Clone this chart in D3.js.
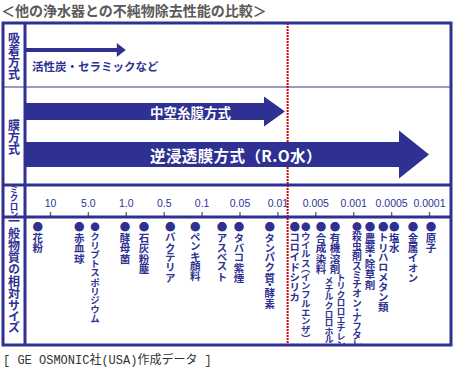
<!DOCTYPE html>
<html><head><meta charset="utf-8">
<script src="https://cdn.jsdelivr.net/npm/d3@7"></script>
<style>
html,body{margin:0;padding:0;background:#fff;}
svg{display:block;}
text{font-family:"Noto Sans CJK JP","Noto Sans",sans-serif;}
</style></head><body>
<script>
// ---------- data ----------
const titleText = "＜他の浄水器との不純物除去性能の比較＞";
const sourceText = "[ GE OSMONIC社(USA)作成データ ]";
const sectionNames = ["吸着方式", "膜方式", "ミクロン", "一般物質の相対サイズ"];
const tickLabels = ["10", "5.0", "1.0", "0.5", "0.1", "0.05", "0.01", "0.005", "0.001", "0.0005", "0.0001"];
const methodNames = ["活性炭・セラミックなど", "中空糸膜方式", "逆浸透膜方式（R.O水）"];
const methodReach = [2.0, 6.2, 10.0];          // in tick-index units
const cutoffPos = 6.27;                         // red dotted line, tick-index units
const substanceNames = ["花粉", "赤血球", "クリプトスポリジウム", "酵母菌", "石灰粉塵", "バクテリア", "ペンキ顔料",
  "アスベスト", "タバコ紫煙", "タンパク質・酵素", "コロイドシリカ", "ウイルス（インフルエンザ）", "合成染料",
  "有機溶剤", "殺虫剤スミチオン・ナフタレン", "農薬・除草剤", "トリハロメタン類", "塩水", "金属イオン", "原子"];
const substancePos = [-0.32, 0.77, 1.19, 1.98, 2.48, 3.17, 3.83, 4.54, 4.99, 5.80, 6.46, 6.75, 7.15,
  7.52, 8.10, 8.44, 8.79, 9.08, 9.58, 10.05];
const subNoteParent = "有機溶剤";
const subNotes = ["トリクロロエチレン", "メチルクロロホルム"];

// ---------- layout ----------
const W = 454, H = 370;
const navy = "#2e3192", light = "#9b9bcb";
const F = {left: 3, right: 451, top: 23, bottom: 345};
const colX = 25;
const rowY = [23, 87, 185, 217, 345];
// long names are set in a smaller face, as in the original
const smallFace = {"クリプトスポリジウム": 9.5, "ウイルス（インフルエンザ）": 9.5, "殺虫剤スミチオン・ナフタレン": 9.8};

const svg = d3.select("body").append("svg").attr("width", W).attr("height", H);

svg.append("defs").append("clipPath").attr("id", "clipRow")
  .append("rect").attr("x", colX + 2).attr("y", rowY[3] + 2).attr("width", F.right - colX - 4).attr("height", rowY[4] - rowY[3] - 3);

// title
svg.append("text").attr("x", 1).attr("y", 16.4).text(titleText)
  .attr("font-size", 14).attr("font-weight", "bold").attr("fill", "#5a5a5a");

// source
svg.append("text").attr("x", 3).attr("y", 364).text(sourceText)
  .style("font-family", '"Liberation Mono","Noto Sans CJK JP",monospace')
  .attr("font-size", 12).attr("fill", "#333");

const xs = d3.scaleLinear().domain([0, tickLabels.length - 1]).range([50, 429]);
const xp = d3.scalePoint().domain(tickLabels).range([50, 429]);

// light row separator
svg.append("line").attr("x1", F.left).attr("x2", F.right).attr("y1", rowY[1]).attr("y2", rowY[1])
  .attr("stroke", light).attr("stroke-width", 2);

// red cutoff line (behind the arrows)
svg.append("line").attr("x1", xs(cutoffPos)).attr("x2", xs(cutoffPos)).attr("y1", F.top).attr("y2", F.bottom)
  .attr("stroke", "#d10000").attr("stroke-width", 2).attr("stroke-dasharray", "2,1");

// arrows
const arrowStyle = [
  {cy: 50, shaft: 4, head: 14, headLen: 9},
  {cy: 111.5, shaft: 17, head: 30, headLen: 21},
  {cy: 154.5, shaft: 25, head: 48, headLen: 30}
];
function arrowPath(tip, s) {
  const p = d3.path();
  const x0 = colX, hx = tip - s.headLen;
  p.moveTo(x0, s.cy - s.shaft / 2);
  p.lineTo(hx, s.cy - s.shaft / 2);
  p.lineTo(hx, s.cy - s.head / 2);
  p.lineTo(tip, s.cy);
  p.lineTo(hx, s.cy + s.head / 2);
  p.lineTo(hx, s.cy + s.shaft / 2);
  p.lineTo(x0, s.cy + s.shaft / 2);
  p.closePath();
  return p.toString();
}
svg.selectAll("path.arrow").data(methodReach).join("path").attr("class", "arrow")
  .attr("d", (d, i) => arrowPath(xs(d), arrowStyle[i]))
  .attr("fill", navy);

// method labels
svg.append("text").attr("x", 32).attr("y", 71).text(methodNames[0])
  .attr("font-size", 11.5).attr("font-weight", "bold").attr("fill", navy);
svg.append("text").attr("x", 150).attr("y", arrowStyle[1].cy).text(methodNames[1])
  .attr("dominant-baseline", "central")
  .attr("font-size", 13.5).attr("font-weight", "bold").attr("fill", "#fff");
svg.append("text").attr("x", 150).attr("y", arrowStyle[2].cy).text(methodNames[2])
  .attr("dominant-baseline", "central").attr("letter-spacing", 0.4)
  .attr("font-size", 15.5).attr("font-weight", "bold").attr("fill", "#fff");

// axis
const axis = svg.append("g").attr("transform", `translate(0,${rowY[3]})`)
  .call(d3.axisTop(xp).tickSize(5).tickPadding(5));
axis.select(".domain").remove();
axis.selectAll(".tick line").attr("stroke", "#666").attr("stroke-width", 1.4);
axis.selectAll(".tick text").attr("fill", navy).attr("font-size", 10.5)
  .style("font-family", '"Liberation Sans",Arial,sans-serif');

// substances
const subs = svg.append("g").attr("clip-path", "url(#clipRow)");
subs.selectAll("text.sub").data(substanceNames).join("text").attr("class", "sub")
  .attr("x", (d, i) => xs(substancePos[i])).attr("y", 222)
  .text(d => "●" + d)
  .style("writing-mode", "vertical-rl")
  .style("font-feature-settings", '"vpal"')
  .attr("font-size", d => smallFace[d] || 10.5).attr("font-weight", "bold").attr("fill", navy);
const pIdx = substanceNames.indexOf(subNoteParent);
subs.selectAll("text.note").data(subNotes).join("text").attr("class", "note")
  .attr("x", (d, i) => xs(substancePos[pIdx]) + (i === 0 ? 6 : -6)).attr("y", (d, i) => 273 + i * 3)
  .text(d => d)
  .style("writing-mode", "vertical-rl")
  .style("font-feature-settings", '"vpal"')
  .attr("font-size", 9).attr("font-weight", "bold").attr("fill", navy);

// frame
svg.append("rect").attr("x", F.left).attr("y", F.top).attr("width", F.right - F.left).attr("height", F.bottom - F.top)
  .attr("fill", "none").attr("stroke", navy).attr("stroke-width", 3);
svg.append("line").attr("x1", colX).attr("x2", colX).attr("y1", F.top).attr("y2", F.bottom)
  .attr("stroke", navy).attr("stroke-width", 3);
[rowY[2], rowY[3]].forEach(y => svg.append("line").attr("x1", F.left).attr("x2", F.right).attr("y1", y).attr("y2", y)
  .attr("stroke", navy).attr("stroke-width", 3));

// section labels
const secFont = [12, 12, 9, 12];
svg.selectAll("text.sec").data(sectionNames).join("text").attr("class", "sec")
  .attr("x", 14).attr("y", (d, i) => (rowY[i] + rowY[i + 1]) / 2 + (i === 3 ? -6 : 1))
  .attr("text-anchor", "middle")
  .text(d => d)
  .style("writing-mode", "vertical-rl")
  .style("font-feature-settings", '"vpal"')
  .attr("font-size", (d, i) => secFont[i]).attr("font-weight", "bold").attr("fill", navy);
</script>
</body></html>
